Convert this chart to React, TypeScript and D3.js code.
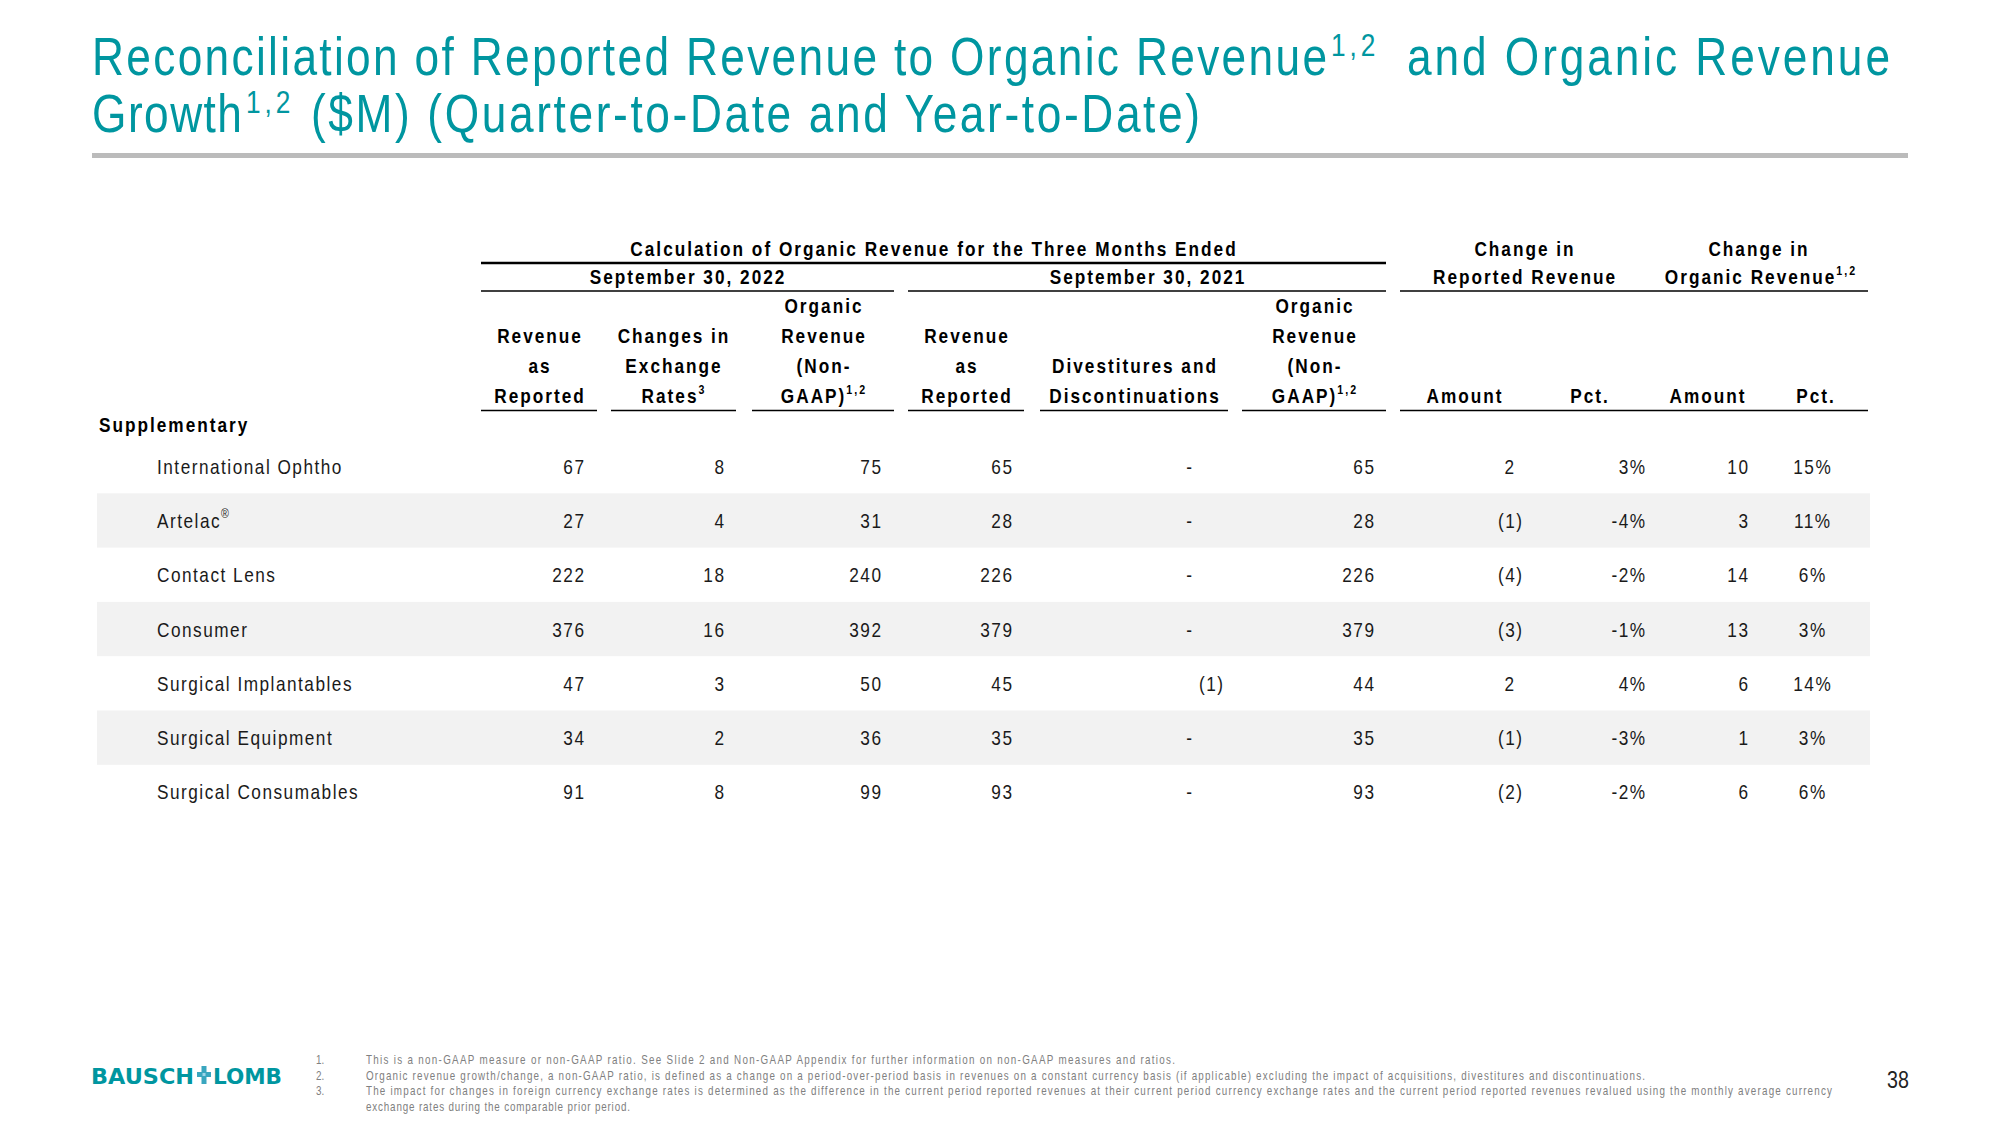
import React from 'react';
import * as d3 from 'd3';

// ---------- data ----------
const categories = [
  'International Ophtho',
  'Artelac|®',
  'Contact Lens',
  'Consumer',
  'Surgical Implantables',
  'Surgical Equipment',
  'Surgical Consumables',
];
const revenue2022 = [67, 27, 222, 376, 47, 34, 91];
const fxChanges = [8, 4, 18, 16, 3, 2, 8];
const organic2022 = [75, 31, 240, 392, 50, 36, 99];
const revenue2021 = [65, 28, 226, 379, 45, 35, 93];
const divestitures = [0, 0, 0, 0, -1, 0, 0];
const organic2021 = [65, 28, 226, 379, 44, 35, 93];
const changeReported = [2, -1, -4, -3, 2, -1, -2];
const changeReportedPct = [3, -4, -2, -1, 4, -3, -2];
const changeOrganic = [10, 3, 14, 13, 6, 1, 6];
const changeOrganicPct = [15, 11, 6, 3, 14, 3, 6];

const columnHeaders = [
  ['Revenue', 'as', 'Reported'],
  ['Changes in', 'Exchange', 'Rates|3'],
  ['Organic', 'Revenue', '(Non-', 'GAAP)|1,2'],
  ['Revenue', 'as', 'Reported'],
  ['Divestitures and', 'Discontinuations'],
  ['Organic', 'Revenue', '(Non-', 'GAAP)|1,2'],
  ['Amount'],
  ['Pct.'],
  ['Amount'],
  ['Pct.'],
];

const titleLine1 = ['Reconciliation of Reported Revenue to Organic Revenue', '1,2', 'and Organic Revenue'];
const titleLine2 = ['Growth', '1,2', '($M) (Quarter-to-Date and Year-to-Date)'];
const groupTitle = 'Calculation of Organic Revenue for the Three Months Ended';
const periodLabels = ['September 30, 2022', 'September 30, 2021'];
const changeLabels = [['Change in', 'Reported Revenue'], ['Change in', 'Organic Revenue|1,2']];
const sectionLabel = 'Supplementary';
const footnotes = [
  'This is a non-GAAP measure or non-GAAP ratio. See Slide 2 and Non-GAAP Appendix for further information on non-GAAP measures and ratios.',
  'Organic revenue growth/change, a non-GAAP ratio, is defined as a change on a period-over-period basis in revenues on a constant currency basis (if applicable) excluding the impact of acquisitions, divestitures and discontinuations.',
  'The impact for changes in foreign currency exchange rates is determined as the difference in the current period reported revenues at their current period currency exchange rates and the current period reported revenues revalued using the monthly average currency',
  'exchange rates during the comparable prior period.',
];
const footnoteNumbers = ['1.', '2.', '3.', ''];
const pageNumber = '38';

// ---------- layout ----------
const FONT = "'Liberation Sans', Arial, sans-serif";
const SX = 0.82; // horizontal condensing to emulate a narrow face
const TEAL = '#0096a0';

type ColLayout = { x0?: number; x1?: number; right?: number; center?: number; fmt: 'acct' | 'pct'; hc: number; dash?: number };
const colLayout: ColLayout[] = [
  { x0: 481, x1: 597, right: 584, fmt: 'acct', hc: 539 },
  { x0: 611, x1: 736, right: 724, fmt: 'acct', hc: 673 },
  { x0: 752, x1: 894, right: 881, fmt: 'acct', hc: 823 },
  { x0: 908, x1: 1024, right: 1012, fmt: 'acct', hc: 966 },
  { x0: 1040, x1: 1228, right: 1215, fmt: 'acct', hc: 1134, dash: 1189 },
  { x0: 1242, x1: 1386, right: 1374, fmt: 'acct', hc: 1314 },
  { right: 1514, fmt: 'acct', hc: 1464 },
  { right: 1645, fmt: 'pct', hc: 1589 },
  { right: 1748, fmt: 'acct', hc: 1707 },
  { center: 1812, fmt: 'pct', hc: 1815 },
];
const valueColumns = [
  revenue2022, fxChanges, organic2022, revenue2021, divestitures, organic2021,
  changeReported, changeReportedPct, changeOrganic, changeOrganicPct,
];

type NTProps = {
  s: string; x: number; y: number; anchor?: 'start' | 'middle' | 'end'; size: number;
  supSize?: number; supDy?: number; weight?: any; ls?: number; fill?: string; textLength?: number; family?: string;
};
// narrow text: scaled horizontally, letter-spacing given in final pixels
function NT(p: NTProps) {
  const [main, sup] = p.s.split('|');
  const ls = p.ls ?? 0;
  const anchor = p.anchor || 'start';
  const dx = anchor === 'end' ? ls : anchor === 'middle' ? ls / 2 : 0;
  return (
    <text transform={`translate(${p.x + dx},${p.y}) scale(${SX},1)`} textAnchor={anchor} fontSize={p.size}
      fontWeight={p.weight || 'normal'} letterSpacing={ls / SX} fill={p.fill || '#000'} fontFamily={p.family || FONT}
      textLength={p.textLength ? p.textLength / SX : undefined} lengthAdjust={p.textLength ? 'spacing' : undefined}>
      {main}
      {sup ? <tspan fontSize={p.supSize} dy={p.supDy}>{sup}</tspan> : null}
    </text>
  );
}

export default function App() {
  const W = 2000, H = 1125;
  const rowStep = 54.3;
  const y = d3.scaleBand<string>()
    .domain(categories)
    .range([439, 439 + rowStep * categories.length])
    .paddingInner(0)
    .paddingOuter(0);
  const colIndex = d3.range(valueColumns.length);

  const bodySize = 21;
  const bodyLs = 1.5;
  const bodyFill = '#1a1a1a';
  const headSize = 21;
  const headLs = 2.0;
  const headBottom = 403;
  const headStep = 30;

  const fmt = (v: number, c: ColLayout) => {
    if (c.fmt === 'pct') return `${v}%`;
    if (v === 0) return '-';
    if (v < 0) return `(${Math.abs(v)})`;
    return `${v}`;
  };

  return (
    <div style={{ position: 'absolute', left: 0, top: 0, width: W, height: H, background: '#fff' }}>
      <svg width={W} height={H} viewBox={`0 0 ${W} ${H}`} style={{ display: 'block' }}>
        <rect x={0} y={0} width={W} height={H} fill="#fff" />
        {/* Title */}
        <NT s={titleLine1[0]} x={92} y={75} size={54} fill={TEAL} textLength={1235} />
        <NT s={titleLine1[1]} x={1331} y={56} size={32} fill={TEAL} ls={4} />
        <NT s={titleLine1[2]} x={1407} y={75} size={54} fill={TEAL} textLength={483} />
        <NT s={titleLine2[0]} x={92} y={132} size={54} fill={TEAL} textLength={150} />
        <NT s={titleLine2[1]} x={246} y={113} size={32} fill={TEAL} ls={4} />
        <NT s={titleLine2[2]} x={311} y={132} size={54} fill={TEAL} textLength={889} />
        <rect x={92} y={153} width={1816} height={5} fill="#bbbbbb" />

        {/* stripes */}
        {categories.map((c, i) => i % 2 === 1 ? (
          <rect key={c} x={97} y={y(c)} width={1773} height={y.bandwidth()} fill="#f2f2f2" />
        ) : null)}

        {/* group headers */}
        <NT s={groupTitle} x={933} y={256} anchor="middle" size={headSize} weight="bold" ls={headLs} />
        <NT s={periodLabels[0]} x={687} y={284} anchor="middle" size={headSize} weight="bold" ls={headLs} />
        <NT s={periodLabels[1]} x={1147} y={284} anchor="middle" size={headSize} weight="bold" ls={headLs} />
        {changeLabels.map((lines, k) => (
          <g key={k}>
            <NT s={lines[0]} x={k === 0 ? 1524 : 1758} y={256} anchor="middle" size={headSize} supSize={13} supDy={-9} weight="bold" ls={headLs} />
            <NT s={lines[1]} x={k === 0 ? 1524 : 1760} y={284} anchor="middle" size={headSize} supSize={13} supDy={-9} weight="bold" ls={headLs} />
          </g>
        ))}
        <line x1={481} x2={1386} y1={263} y2={263} stroke="#000" strokeWidth={2.5} />
        <line x1={481} x2={894} y1={291} y2={291} stroke="#000" strokeWidth={1.5} />
        <line x1={908} x2={1386} y1={291} y2={291} stroke="#000" strokeWidth={1.5} />
        <line x1={1400} x2={1868} y1={291} y2={291} stroke="#000" strokeWidth={1.5} />

        {/* column headers */}
        {colIndex.map((ci) => {
          const lines = columnHeaders[ci];
          const n = lines.length;
          return (
            <g key={ci}>
              {lines.map((ln, li) => (
                <NT key={li} s={ln} x={colLayout[ci].hc} y={headBottom - (n - 1 - li) * headStep}
                  anchor="middle" size={headSize} supSize={13} supDy={-9} weight="bold" ls={headLs} />
              ))}
              {colLayout[ci].x0 !== undefined ? (
                <line x1={colLayout[ci].x0} x2={colLayout[ci].x1} y1={410.5} y2={410.5} stroke="#000" strokeWidth={1.5} />
              ) : null}
            </g>
          );
        })}
        <line x1={1400} x2={1868} y1={410.5} y2={410.5} stroke="#000" strokeWidth={1.5} />

        {/* section label */}
        <NT s={sectionLabel} x={99} y={432} size={headSize} weight="bold" ls={headLs} />

        {/* rows */}
        {categories.map((c, ri) => {
          const cy = (y(c) as number) + y.bandwidth() / 2 + 7.5;
          return (
            <g key={c}>
              <NT s={c} x={157} y={cy} size={bodySize} supSize={13} supDy={-10} ls={bodyLs} fill={bodyFill} />
              {colIndex.map((ci) => {
                const v = valueColumns[ci][ri];
                const L = colLayout[ci];
                const s = fmt(v, L);
                if (L.center !== undefined) {
                  return <NT key={ci} s={s} x={L.center} y={cy} anchor="middle" size={bodySize} ls={bodyLs} fill={bodyFill} />;
                }
                if (L.fmt === 'acct' && v === 0) {
                  return <NT key={ci} s={s} x={L.dash as number} y={cy} anchor="middle" size={bodySize} ls={bodyLs} fill={bodyFill} />;
                }
                const xr = (L.right as number) + (L.fmt === 'acct' && v < 0 ? 8 : 0);
                return <NT key={ci} s={s} x={xr} y={cy} anchor="end" size={bodySize} ls={bodyLs} fill={bodyFill} />;
              })}
            </g>
          );
        })}

        {/* logo */}
        <g fontFamily="'DejaVu Sans', sans-serif" fontWeight="bold" fill={TEAL}>
          <text x={91} y={1084} fontSize={22} textLength={103} lengthAdjust="spacingAndGlyphs">BAUSCH</text>
          <text x={213} y={1084} fontSize={22} textLength={69} lengthAdjust="spacingAndGlyphs">LOMB</text>
        </g>
        <g>
          <rect x={197} y={1072} width={14} height={5} fill="#3aa6bf" />
          <rect x={201.5} y={1066} width={5} height={18} fill="#3aa6bf" />
          <rect x={202.5} y={1073} width={3} height={3} fill="#9fd6ea" />
        </g>

        {/* footnotes */}
        {footnotes.map((f, i) => {
          const lens = [809, 1279, 1466, 264];
          return (
            <g key={i}>
              {footnoteNumbers[i] ? <NT s={footnoteNumbers[i]} x={316} y={1064 + i * 15.5} size={12} fill="#808080" /> : null}
              <NT s={f} x={366} y={1064 + i * 15.5} size={12} fill="#808080" textLength={lens[i]} />
            </g>
          );
        })}
        <NT s={pageNumber} x={1898} y={1088} anchor="middle" size={24} fill="#222" />
      </svg>
    </div>
  );
}
